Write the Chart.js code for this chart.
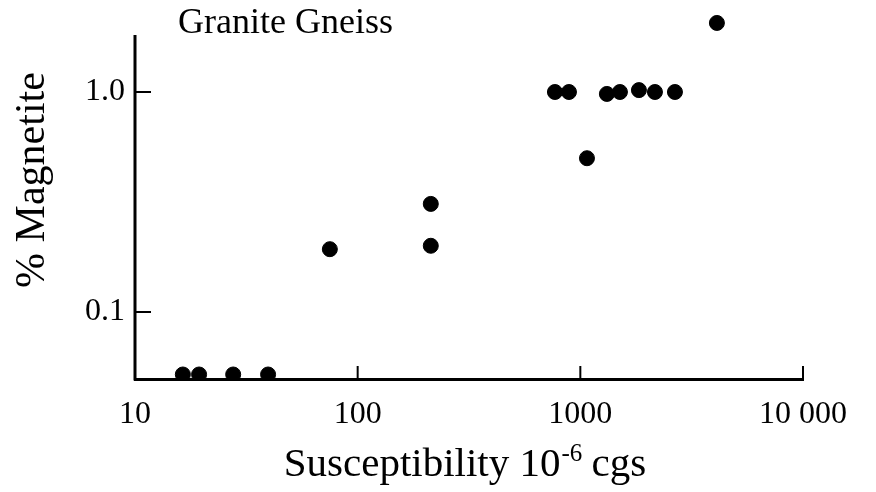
<!DOCTYPE html>
<html>
<head>
<meta charset="utf-8">
<script src="https://cdn.jsdelivr.net/npm/chart.js@4/dist/chart.umd.min.js"></script>
<style>
  html, body { margin:0; padding:0; background:#fff; }
  #wrap { width:876px; height:492px; }
</style>
</head>
<body>
<div id="wrap"><canvas id="magChart" width="876" height="492"></canvas></div>
<script>
// susceptibility (10^-6 cgs) vs % magnetite
const susceptibility = [16.4, 19.4, 27.6, 39.6, 75, 213, 213, 769, 889, 1316, 1506, 1833, 2163, 2660, 1071, 4105];
const magnetite      = [0.052, 0.052, 0.052, 0.052, 0.193, 0.31, 0.2, 1.0, 1.0, 0.98, 1.0, 1.02, 1.0, 1.0, 0.5, 2.06];

const xTicks = [10, 100, 1000, 10000];
const xTickLabels = ['10', '100', '1000', '10 000'];
const yTicks = [0.1, 1];
const yTickLabels = ['0.1', '1.0'];
const yAxisTop = 1.816; // the drawn y axis stops here

const chartTitle = 'Granite Gneiss';
const yTitle = '% Magnetite';
const xTitle = ['Susceptibility 10', '-6', ' cgs'];

const FONT = "'Liberation Serif', 'DejaVu Serif', serif";

const points = susceptibility.map((x, i) => ({ x: x, y: magnetite[i] }));

// y axis line, titles and the little inward tick marks
const extras = {
    id: 'extras',
    afterDraw(chart){
        const ctx = chart.ctx;
        const xs = chart.scales.x, ys = chart.scales.y;
        const area = chart.chartArea;
        ctx.save();
        ctx.strokeStyle = '#000';
        ctx.lineWidth = 3;
        ctx.beginPath();
        ctx.moveTo(area.left, ys.getPixelForValue(yAxisTop));
        ctx.lineTo(area.left, area.bottom + 1.5);
        ctx.stroke();

        ctx.lineWidth = 2;
        xTicks.slice(1).forEach(v => {
            const px = xs.getPixelForValue(v);
            ctx.beginPath(); ctx.moveTo(px, area.bottom); ctx.lineTo(px, area.bottom - 13); ctx.stroke();
        });
        yTicks.forEach(v => {
            const py = ys.getPixelForValue(v);
            ctx.beginPath(); ctx.moveTo(area.left, py); ctx.lineTo(area.left + 16, py); ctx.stroke();
        });

        ctx.fillStyle = '#000';
        ctx.textBaseline = 'alphabetic';
        ctx.textAlign = 'left';
        ctx.font = '36px ' + FONT;
        ctx.fillText(chartTitle, 178, 33);

        // y title, rotated
        ctx.save();
        ctx.translate(44, 180);
        ctx.rotate(-Math.PI / 2);
        ctx.textAlign = 'center';
        ctx.font = '42px ' + FONT;
        ctx.fillText(yTitle, 0, 0);
        ctx.restore();

        // x title with superscript
        ctx.font = '41px ' + FONT;
        const w0 = ctx.measureText(xTitle[0]).width;
        const w2 = ctx.measureText(xTitle[2]).width;
        ctx.font = '25px ' + FONT;
        const w1 = ctx.measureText(xTitle[1]).width;
        let sx = 465 - (w0 + w1 + w2) / 2;
        const base = 476;
        ctx.font = '41px ' + FONT;
        ctx.fillText(xTitle[0], sx, base);
        ctx.font = '25px ' + FONT;
        ctx.fillText(xTitle[1], sx + w0 + 1, base - 15);
        ctx.font = '41px ' + FONT;
        ctx.fillText(xTitle[2], sx + w0 + w1, base);
        ctx.restore();
    }
};

new Chart(document.getElementById('magChart'), {
    type: 'scatter',
    data: {
        datasets: [{
            data: points,
            backgroundColor: '#000',
            borderColor: '#000',
            pointRadius: 7.5,
            pointHoverRadius: 7.5,
            clip: { left: false, top: false, right: false, bottom: 0 }
        }]
    },
    options: {
        responsive: false,
        animation: false,
        layout: { padding: { left: 0, top: 10, right: 73, bottom: 0 } },
        plugins: {
            legend: { display: false },
            tooltip: { enabled: false }
        },
        scales: {
            x: {
                type: 'logarithmic',
                min: 10, max: 10000,
                grid: { display: false, drawTicks: false },
                border: { display: true, color: '#000', width: 3 },
                afterBuildTicks: s => { s.ticks = xTicks.map(v => ({ value: v })); },
                afterFit: s => { s.height = 113; s.paddingLeft = 0; s.paddingRight = 0; },
                ticks: {
                    color: '#000',
                    padding: 16,
                    maxRotation: 0,
                    font: { family: FONT, size: 32 },
                    callback: v => xTickLabels[xTicks.indexOf(v)]
                }
            },
            y: {
                type: 'logarithmic',
                min: 0.0496, max: 2.359,
                grid: { display: false, drawTicks: false },
                border: { display: false },
                afterBuildTicks: s => { s.ticks = yTicks.map(v => ({ value: v })); },
                afterFit: s => { s.width = 135; s.paddingTop = 0; s.paddingBottom = 0; },
                ticks: {
                    color: '#000',
                    padding: 10,
                    font: { family: FONT, size: 32 },
                    callback: v => yTickLabels[yTicks.indexOf(v)]
                }
            }
        }
    },
    plugins: [extras]
});
</script>
</body>
</html>
